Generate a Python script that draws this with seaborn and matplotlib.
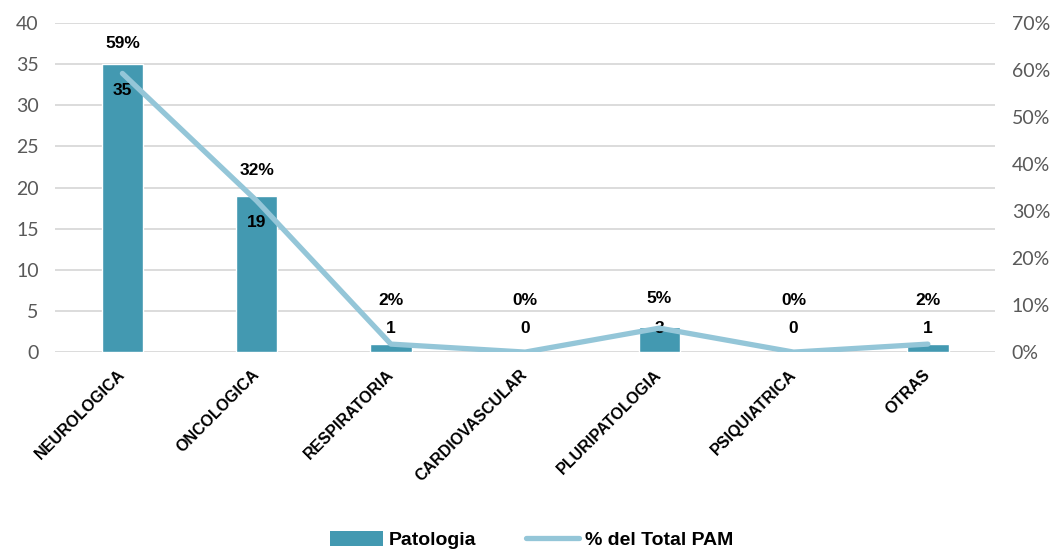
import matplotlib
matplotlib.use("Agg")
import matplotlib.pyplot as plt
import seaborn as sns
import pandas as pd
from matplotlib.ticker import PercentFormatter
from matplotlib.patches import Patch
from matplotlib.lines import Line2D

# ----------------------------
# Data
# ----------------------------
categorias = ["NEUROLOGICA", "ONCOLOGICA", "RESPIRATORIA", "CARDIOVASCULAR",
              "PLURIPATOLOGIA", "PSIQUIATRICA", "OTRAS"]
patologia = [35, 19, 1, 0, 3, 0, 1]
pct_total = [0.593, 0.322, 0.017, 0.0, 0.051, 0.0, 0.017]
pct_labels = ["59%", "32%", "2%", "0%", "5%", "0%", "2%"]

df = pd.DataFrame({"categoria": categorias, "patologia": patologia, "pct": pct_total})

bar_color = "#4399B1"
line_color = "#94C6D8"
grid_color = "#D9D9D9"
tick_color = "#595959"
bold_font = ["Liberation Sans", "DejaVu Sans"]

sns.set_style("white")
plt.rcParams["font.family"] = ["Lato", "DejaVu Sans"]

fig = plt.figure(figsize=(10.63, 5.51), dpi=100)
ax = fig.add_axes([0.052, 0.361, 0.884, 0.597])

sns.barplot(data=df, x="categoria", y="patologia", color=bar_color,
            width=0.31, saturation=1, ax=ax, zorder=2)
ax.set_ylim(0, 40)
ax.set_yticks(range(0, 41, 5))
ax.set_xlim(-0.5, len(categorias) - 0.5)
ax.yaxis.grid(True, color=grid_color, linewidth=1.3, zorder=0)
ax.set_axisbelow(True)
for s in ax.spines.values():
    s.set_visible(False)
ax.set_xlabel("")
ax.set_ylabel("")
ax.tick_params(axis="y", length=0, labelsize=14, labelcolor=tick_color, pad=12)
ax.tick_params(axis="x", length=0, pad=4, labelcolor="black")
ax.set_xticks(range(len(categorias)))
ax.set_xticklabels(categorias, rotation=45, ha="right", va="center",
                   rotation_mode="anchor", fontsize=11.5, fontweight="bold",
                   family=bold_font)
for lbl in ax.get_xticklabels():
    lbl.set_y(-0.045)

ax2 = ax.twinx()
sns.lineplot(data=df, x="categoria", y="pct", color=line_color, linewidth=3.8,
             ax=ax2, sort=False, solid_capstyle="round", zorder=3)
ax2.set_ylim(0, 0.7)
ax2.set_yticks([i / 10 for i in range(8)])
ax2.yaxis.set_major_formatter(PercentFormatter(1.0, decimals=0))
ax2.tick_params(axis="y", length=0, labelsize=14, labelcolor=tick_color, pad=12)
for s in ax2.spines.values():
    s.set_visible(False)
ax2.set_ylabel("")
ax2.set_xlabel("")
ax2.grid(False)

# count labels (inside end of bar)
for i, v in enumerate(patologia):
    y = max(v - 3.2, 2.9)
    ax.text(i, y, str(v), ha="center", va="center", fontsize=12.5,
            fontweight="bold", family=bold_font, color="black", zorder=5)

# percentage labels (above the line)
for i, (p, t) in enumerate(zip(pct_total, pct_labels)):
    y = max(p + 0.064, 0.11)
    ax2.text(i, y, t, ha="center", va="center", fontsize=12.5,
             fontweight="bold", family=bold_font, color="black", zorder=5)

handles = [Patch(facecolor=bar_color, edgecolor="none", label="Patologia"),
           Line2D([0], [0], color=line_color, linewidth=3.8, solid_capstyle="round",
                  label="% del Total PAM")]
leg = fig.legend(handles=handles, loc="lower center", bbox_to_anchor=(0.5, -0.028),
                 ncol=2, frameon=False,
                 prop={"weight": "bold", "size": 14, "family": bold_font},
                 handlelength=2.7, handleheight=0.8, columnspacing=2.6,
                 handletextpad=0.3)
for t in leg.get_texts():
    t.set_color("black")

fig.savefig("out.png", dpi=100)
plt.close(fig)
